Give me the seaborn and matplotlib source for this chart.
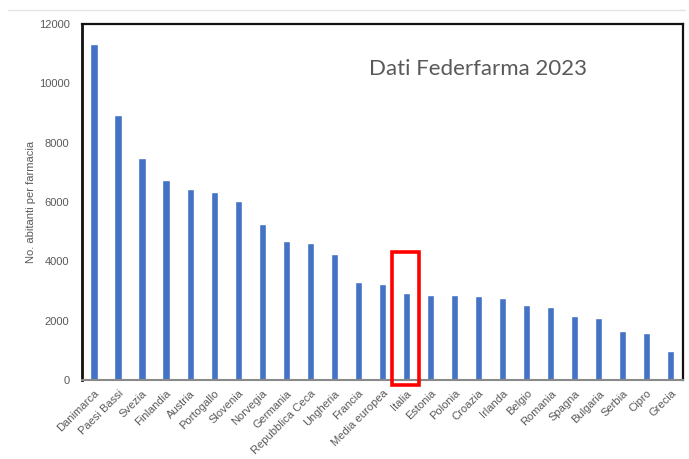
import seaborn as sns
import matplotlib.pyplot as plt
import matplotlib.patches as mpatches
from matplotlib.lines import Line2D
import pandas as pd

# Dati Federfarma 2023: abitanti per farmacia
paesi = ["Danimarca", "Paesi Bassi", "Svezia", "Finlandia", "Austria", "Portogallo",
         "Slovenia", "Norvegia", "Germania", "Repubblica Ceca", "Ungheria", "Francia",
         "Media europea", "Italia", "Estonia", "Polonia", "Croazia", "Irlanda",
         "Belgio", "Romania", "Spagna", "Bulgaria", "Serbia", "Cipro", "Grecia"]
abitanti = [11310, 8920, 7480, 6730, 6435, 6335, 6030, 5257, 4675, 4618, 4258, 3296,
            3239, 2936, 2860, 2860, 2835, 2778, 2543, 2466, 2173, 2096, 1668, 1581, 986]
y_ticks = [0, 2000, 4000, 6000, 8000, 10000, 12000]

df = pd.DataFrame({"Paese": paesi, "Abitanti": abitanti})

sns.set_style("white")
plt.rcParams["font.family"] = ["Liberation Sans", "DejaVu Sans"]

fig = plt.figure(figsize=(6.89, 4.59), dpi=100)
ax = fig.add_axes([0.119, 0.172, 0.872, 0.776])

sns.barplot(data=df, x="Paese", y="Abitanti", color="#4472C4", saturation=1,
            width=0.3, ax=ax)

ax.set_ylim(0, 12000)
ax.set_yticks(y_ticks)
ax.set_xlim(-0.5, len(paesi) - 0.5)
ax.tick_params(axis="both", length=0, colors="#595959", labelsize=8)
ax.tick_params(axis="y", pad=9)
ax.tick_params(axis="x", pad=6)
plt.setp(ax.get_xticklabels(), rotation=45, ha="right", rotation_mode="anchor")
ax.set_xlabel("")
ax.set_ylabel("No. abitanti per farmacia", fontsize=8, color="#595959", labelpad=2)

for side in ["left", "top", "right"]:
    ax.spines[side].set_color("#111111")
    ax.spines[side].set_linewidth(1.6)
ax.spines["left"].set_linewidth(2)
ax.spines["bottom"].set_color("#8a8a8a")
ax.spines["bottom"].set_linewidth(1.5)

# red box around Italia
i = paesi.index("Italia")
rect = mpatches.Rectangle((i - 0.58, -170), 1.1, 4470, fill=False,
                          edgecolor="#ff0000", linewidth=2.6, clip_on=False, zorder=5)
ax.add_patch(rect)

ax.text(0.659, 0.874, "Dati Federfarma 2023", transform=ax.transAxes, ha="center",
        va="center", fontsize=16, color="#595959", family=["Lato", "DejaVu Sans"])

# faint separator line at the top
fig.add_artist(Line2D([0.012, 0.994], [0.978, 0.978], color="#e4e4e4", linewidth=1))

fig.savefig("out.png", dpi=100)
